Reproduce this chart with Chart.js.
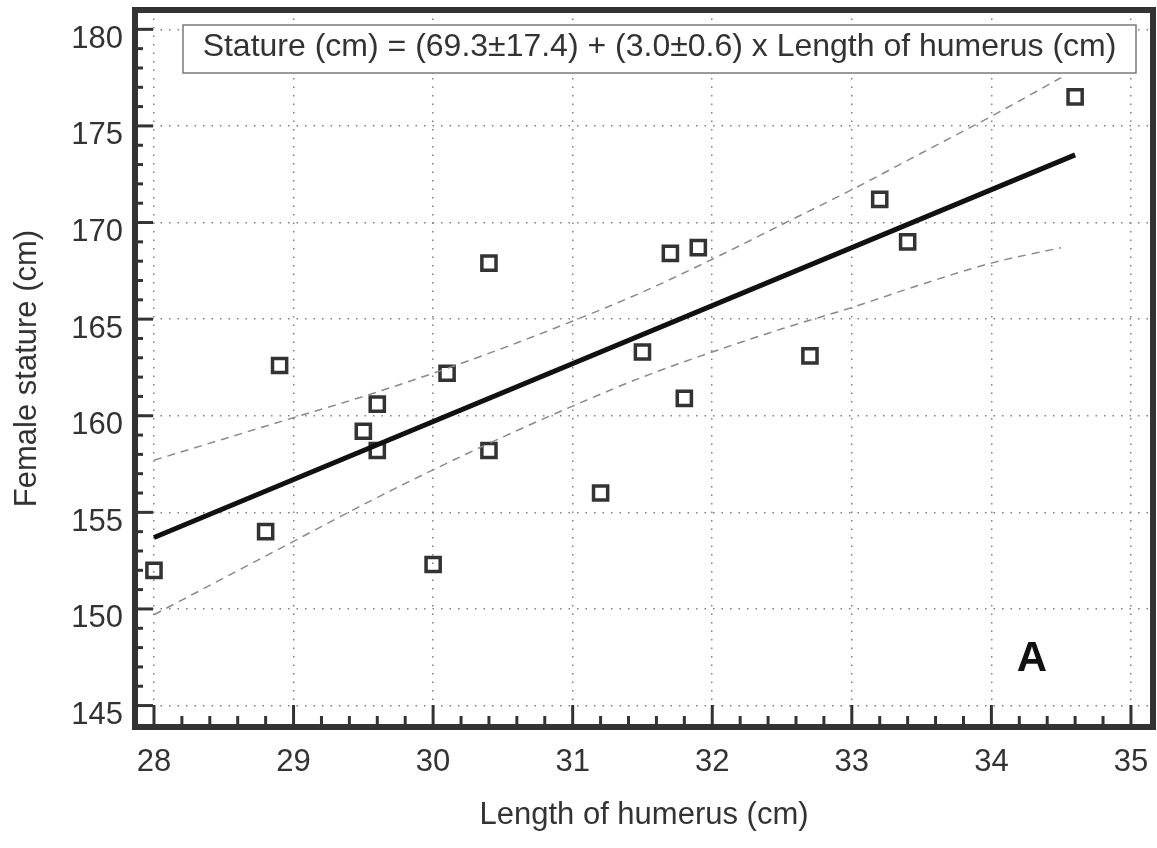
<!DOCTYPE html>
<html>
<head>
<meta charset="utf-8">
<title>Female stature vs length of humerus</title>
<script src="https://cdn.jsdelivr.net/npm/chart.js@4.4.0/dist/chart.umd.min.js"></script>
<style>
  html, body { margin: 0; padding: 0; background: #fff; }
</style>
</head>
<body>
<canvas id="chart" width="1157" height="848"></canvas>
<script>
"use strict";

/* ─── Data ──────────────────────────────────────────────────── */

/* Measured individuals: humerus length (cm) and stature (cm) */
const HUMERUS = [28.0, 28.8, 28.9, 29.5, 29.6, 29.6, 30.0, 30.1, 30.4, 30.4,
                 31.2, 31.5, 31.7, 31.8, 31.9, 32.7, 33.2, 33.4, 34.6];
const STATURE = [152.0, 154.0, 162.6, 159.2, 160.6, 158.2, 152.3, 162.2, 167.9, 158.2,
                 156.0, 163.3, 168.4, 160.9, 168.7, 163.1, 171.2, 169.0, 176.5];

/* Regression line end points */
const FIT_X = [28.0, 34.6];
const FIT_Y = [153.7, 173.5];

/* Confidence band (dashed curves) */
const BAND_X     = [28.0, 28.5, 29.0, 29.5, 30.0, 30.5, 31.0, 31.5, 32.0, 32.5, 33.0, 33.5, 34.0, 34.5];
const BAND_UPPER = [157.7, 158.8, 159.9, 161.0, 162.2, 163.5, 164.9, 166.4, 168.1, 169.9, 171.7, 173.6, 175.5, 177.5];
const BAND_LOWER = [149.7, 151.6, 153.5, 155.4, 157.2, 158.9, 160.5, 162.0, 163.3, 164.5, 165.6, 166.8, 167.9, 168.7];

/* Axis ticks */
const X_TICKS = [28, 29, 30, 31, 32, 33, 34, 35];
const Y_TICKS = [145, 150, 155, 160, 165, 170, 175, 180];

const EQUATION = "Stature (cm) = (69.3\u00b117.4) + (3.0\u00b10.6) x Length of humerus (cm)";
const PANEL = "A";

/* ─── Style ─────────────────────────────────────────────────── */

const FONT = "'Liberation Sans', Arial, Helvetica, sans-serif";
const INK = "#333";
const GRID = "#808080";

/* Pairs two arrays into {x, y} points */
function pairs(xs, ys) {
  return xs.map(function (x, i) { return { x: x, y: ys[i] }; });
}

/* ─── Frame, inward ticks, equation box and panel letter ────── */

const decorPlugin = {
  id: "decor",
  afterDatasetsDraw(chart) {
    const ctx = chart.ctx;
    const a = chart.chartArea;

    /* Equation box */
    const bx = a.left + 48, by = a.top + 15;
    const bw = a.right - 17 - bx, bh = 48;
    ctx.save();
    ctx.fillStyle = "#fff";
    ctx.fillRect(bx, by, bw, bh);
    ctx.strokeStyle = "#7a7a7a";
    ctx.lineWidth = 1.5;
    ctx.strokeRect(bx, by, bw, bh);
    ctx.fillStyle = INK;
    ctx.font = "32px " + FONT;
    ctx.textAlign = "center";
    ctx.textBaseline = "middle";
    ctx.fillText(EQUATION, bx + bw / 2, by + bh / 2 - 2);
    ctx.restore();
  },
  afterDraw(chart) {
    const ctx = chart.ctx;
    const a = chart.chartArea;
    const xs = chart.scales.x;
    const ys = chart.scales.y;

    ctx.save();
    ctx.strokeStyle = INK;
    ctx.lineCap = "butt";

    /* x axis ticks, pointing into the plot */
    ctx.lineWidth = 3;
    for (let i = 0; i <= 35; i++) {
      const v = X_TICKS[0] + i * 0.2;
      const px = xs.getPixelForValue(v);
      const len = i % 5 === 0 ? 22 : 11;
      ctx.beginPath();
      ctx.moveTo(px, a.bottom);
      ctx.lineTo(px, a.bottom - len);
      ctx.stroke();
    }

    /* y axis ticks */
    for (let v = Y_TICKS[0]; v <= Y_TICKS[Y_TICKS.length - 1]; v++) {
      const py = ys.getPixelForValue(v);
      const len = v % 5 === 0 ? 18 : 8;
      ctx.beginPath();
      ctx.moveTo(a.left, py);
      ctx.lineTo(a.left + len, py);
      ctx.stroke();
    }

    /* Frame */
    ctx.lineWidth = 6;
    ctx.strokeRect(a.left, a.top, a.right - a.left, a.bottom - a.top);

    /* Panel letter */
    ctx.fillStyle = "#111";
    ctx.font = "bold 42px " + FONT;
    ctx.textAlign = "center";
    ctx.textBaseline = "middle";
    ctx.fillText(PANEL, xs.getPixelForValue(34.29), ys.getPixelForValue(147.4));
    ctx.restore();
  },
};

/* ─── Chart ─────────────────────────────────────────────────── */

const tickFont = { family: FONT, size: 31 };
const titleFont = { family: FONT, size: 31 };

new Chart(document.getElementById("chart"), {
  type: "scatter",
  data: {
    datasets: [
      {
        label: "Upper band",
        type: "line",
        data: pairs(BAND_X, BAND_UPPER),
        borderColor: "#8a8a8a",
        borderWidth: 1.5,
        borderDash: [8, 6],
        pointRadius: 0,
        cubicInterpolationMode: "monotone",
        fill: false,
      },
      {
        label: "Lower band",
        type: "line",
        data: pairs(BAND_X, BAND_LOWER),
        borderColor: "#8a8a8a",
        borderWidth: 1.5,
        borderDash: [8, 6],
        pointRadius: 0,
        cubicInterpolationMode: "monotone",
        fill: false,
      },
      {
        label: "Regression",
        type: "line",
        data: pairs(FIT_X, FIT_Y),
        borderColor: "#111",
        borderWidth: 5,
        pointRadius: 0,
        fill: false,
      },
      {
        label: "Individuals",
        data: pairs(HUMERUS, STATURE),
        pointStyle: "rect",
        pointRadius: 10,
        pointHoverRadius: 10,
        borderWidth: 3.5,
        borderColor: INK,
        backgroundColor: "rgba(255,255,255,0)",
      },
    ],
  },
  plugins: [decorPlugin],
  options: {
    responsive: false,
    animation: false,
    layout: { autoPadding: false, padding: { top: 10, right: 4, left: 0, bottom: 0 } },
    plugins: {
      legend: { display: false },
      tooltip: { enabled: false },
    },
    scales: {
      x: {
        type: "linear",
        min: 27.864,
        max: 35.158,
        afterBuildTicks: function (s) {
          s.ticks = X_TICKS.map(function (v) { return { value: v }; });
        },
        afterFit: function (s) {
          s.height = 121;
          s.paddingLeft = 0;
          s.paddingRight = 0;
        },
        grid: { color: GRID, lineWidth: 1.5, drawTicks: false },
        border: { display: false, dash: [1.5, 7] },
        ticks: { font: tickFont, color: INK, padding: 17, maxRotation: 0 },
        title: {
          display: true,
          text: "Length of humerus (cm)",
          font: titleFont,
          color: INK,
          padding: { top: 0, bottom: 14 },
        },
      },
      y: {
        type: "linear",
        min: 143.89,
        max: 181.0,
        afterBuildTicks: function (s) {
          s.ticks = Y_TICKS.map(function (v) { return { value: v }; });
        },
        afterFit: function (s) {
          s.width = 135;
          s.paddingTop = 0;
          s.paddingBottom = 0;
        },
        grid: { color: GRID, lineWidth: 1.5, drawTicks: false },
        border: { display: false, dash: [1.5, 7] },
        ticks: { font: tickFont, color: INK, padding: 12, labelOffset: 10 },
        title: {
          display: true,
          text: "Female stature (cm)",
          font: titleFont,
          color: INK,
          padding: { top: 9, bottom: 0 },
        },
      },
    },
  },
});
</script>
</body>
</html>
